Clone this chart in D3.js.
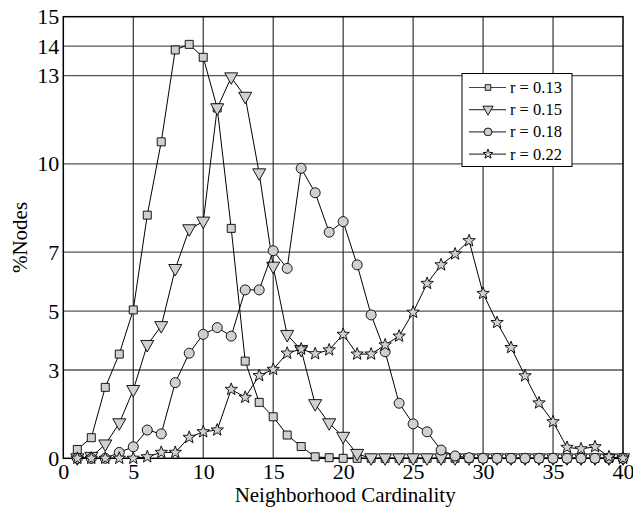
<!DOCTYPE html>
<html>
<head>
<meta charset="utf-8">
<script src="https://cdn.jsdelivr.net/npm/d3@7"></script>
<style>
  body { margin: 0; background: #fff; }
  svg { display: block; font-family: "Liberation Serif", "Times New Roman", serif; }
</style>
</head>
<body>
<div class="chart"></div>
<script>
const xs = d3.range(1, 41);
const r013 = [0.3, 0.7, 2.41, 3.54, 5.04, 8.26, 10.75, 13.87, 14.06, 13.62, 11.9, 7.81, 3.3, 1.9, 1.41, 0.79, 0.4, 0.05, 0.02, 0,
  0, 0, 0, 0, 0, 0, 0, 0, 0, 0, 0, 0, 0, 0, 0, 0, 0, 0, 0, 0];
const r015 = [0, 0.05, 0.47, 1.19, 2.32, 3.85, 4.49, 6.43, 7.78, 8.04, 11.89, 12.94, 12.28, 9.68, 6.51, 4.19, 3.68, 1.84, 1.19, 0.73,
  0.15, 0, 0, 0, 0, 0, 0, 0, 0, 0, 0, 0, 0, 0, 0, 0, 0, 0, 0, 0];
const r018 = [0, 0, 0, 0.2, 0.39, 0.96, 0.83, 2.57, 3.57, 4.21, 4.44, 4.15, 5.72, 5.72, 7.05, 6.45, 9.85, 9.02, 7.68, 8.04,
  6.57, 4.87, 3.62, 1.87, 1.17, 0.9, 0.28, 0.08, 0.02, 0, 0, 0, 0, 0, 0, 0, 0, 0, 0, 0];
const r022 = [0, 0, 0, 0, 0, 0.05, 0.2, 0.2, 0.71, 0.9, 0.96, 2.34, 2.07, 2.81, 3.02, 3.57, 3.71, 3.55, 3.68, 4.21,
  3.54, 3.54, 3.85, 4.15, 4.96, 5.94, 6.57, 6.94, 7.39, 5.6, 4.61, 3.76, 2.8, 1.88, 1.24, 0.37, 0.32, 0.39, 0.05, 0];
const seriesNames = ["r = 0.13", "r = 0.15", "r = 0.18", "r = 0.22"];
const xTicks = [0, 5, 10, 15, 20, 25, 30, 35, 40];
const yTicks = [0, 3, 5, 7, 10, 13, 14, 15];

const w = 633, h = 513;
const margin = {left: 63.3, right: 10, top: 16.7, bottom: 54.7};

const svg = d3.select(".chart").append("svg")
  .attr("width", w)
  .attr("height", h);

const x = d3.scaleLinear().domain([0, 40]).range([margin.left, w - margin.right]);
const y = d3.scaleLinear().domain([0, 15]).range([h - margin.bottom, margin.top]);

// grid
svg.append("g").selectAll("line")
  .data(yTicks.filter(d => d > 0 && d < 15))
  .enter().append("line")
  .attr("x1", x(0)).attr("x2", x(40))
  .attr("y1", d => y(d)).attr("y2", d => y(d))
  .attr("stroke", "#555").attr("stroke-width", 1.3);
svg.append("g").selectAll("line")
  .data(xTicks.filter(d => d > 0 && d < 40))
  .enter().append("line")
  .attr("x1", d => x(d)).attr("x2", d => x(d))
  .attr("y1", y(0)).attr("y2", y(15))
  .attr("stroke", "#222").attr("stroke-width", 1.1);

// frame
svg.append("rect")
  .attr("x", x(0)).attr("y", y(15))
  .attr("width", x(40) - x(0)).attr("height", y(0) - y(15))
  .attr("fill", "none").attr("stroke", "#000").attr("stroke-width", 1.5);

// axes (labels only)
const xAxis = svg.append("g")
  .attr("transform", `translate(0, ${y(0)})`)
  .call(d3.axisBottom(x).tickValues(xTicks).tickSize(0).tickPadding(5));
const yAxis = svg.append("g")
  .attr("transform", `translate(${x(0)}, 0)`)
  .call(d3.axisLeft(y).tickValues(yTicks).tickSize(0).tickPadding(4));
[xAxis, yAxis].forEach(a => {
  a.select(".domain").remove();
  a.selectAll("text")
    .attr("font-family", "Liberation Serif, serif")
    .attr("font-size", 22)
    .attr("fill", "#000");
});

svg.append("text")
  .attr("x", (x(0) + x(40)) / 2 + 2)
  .attr("y", 502)
  .attr("text-anchor", "middle")
  .attr("font-size", 21)
  .text("Neighborhood Cardinality");

svg.append("text")
  .attr("transform", `translate(27, ${(y(0) + y(15)) / 2}) rotate(-90)`)
  .attr("text-anchor", "middle")
  .attr("font-size", 21)
  .text("%Nodes");

// marker shapes
const starPath = (R) => {
  const rIn = R * 0.42;
  let p = [];
  for (let i = 0; i < 10; i++) {
    const a = -Math.PI / 2 + i * Math.PI / 5;
    const rr = i % 2 === 0 ? R : rIn;
    p.push([rr * Math.cos(a), rr * Math.sin(a)]);
  }
  return "M" + p.map(q => q.join(",")).join("L") + "Z";
};
const shapes = [
  s => `M${-4 * s},${-4 * s}H${4 * s}V${4 * s}H${-4 * s}Z`,
  s => `M${-6.5 * s},${-4.5 * s}L${6.5 * s},${-4.5 * s}L0,${7 * s}Z`,
  s => d3.arc()({innerRadius: 0, outerRadius: 5 * s, startAngle: 0, endAngle: 2 * Math.PI}),
  s => starPath(6.5 * s)
];

const allSeries = [r013, r015, r018, r022];
const line = d3.line().x((d, i) => x(xs[i])).y(d => y(d));

allSeries.forEach((vals, si) => {
  const g = svg.append("g");
  g.append("path")
    .datum(vals)
    .attr("d", line)
    .attr("fill", "none")
    .attr("stroke", "#000")
    .attr("stroke-width", 1);
  g.selectAll("path.mk")
    .data(vals)
    .enter().append("path")
    .attr("class", "mk")
    .attr("d", shapes[si](1))
    .attr("transform", (d, i) => `translate(${x(xs[i])}, ${y(d)})`)
    .attr("fill", "#d0d0d0")
    .attr("stroke", "#000")
    .attr("stroke-width", 0.9);
});

// legend
const lg = svg.append("g").attr("transform", "translate(462, 73.5)");
lg.append("rect")
  .attr("width", 110).attr("height", 93)
  .attr("fill", "#fff").attr("stroke", "#000").attr("stroke-width", 1);
seriesNames.forEach((name, i) => {
  const yy = 14 + i * 22.2;
  lg.append("line")
    .attr("x1", 7).attr("x2", 44).attr("y1", yy).attr("y2", yy)
    .attr("stroke", "#444").attr("stroke-width", 1.2);
  lg.append("path")
    .attr("d", shapes[i](i === 0 ? 0.7 : 0.78))
    .attr("transform", `translate(26, ${yy})`)
    .attr("fill", "#d0d0d0").attr("stroke", "#000").attr("stroke-width", 0.9);
  lg.append("text")
    .attr("x", 48).attr("y", yy + 5.5)
    .attr("font-size", 16.5)
    .text(name);
});
</script>
</body>
</html>
